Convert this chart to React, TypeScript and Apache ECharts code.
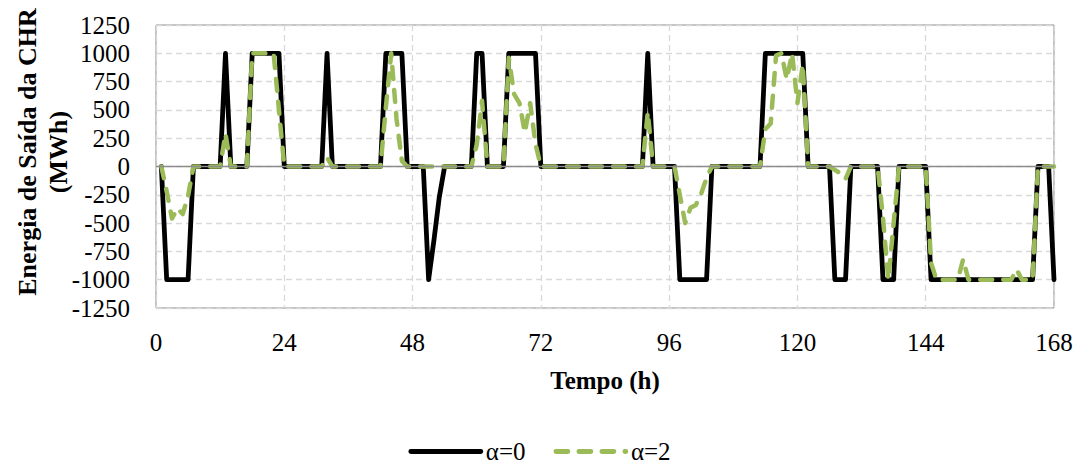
import React, { useEffect, useRef } from "react";
import * as echarts from "echarts";

// Hours 1..168
const hours: number[] = Array.from({ length: 168 }, (_, i) => i + 1);

const xTicks = [0, 24, 48, 72, 96, 120, 144, 168];
const yTicks = [-1250, -1000, -750, -500, -250, 0, 250, 500, 750, 1000, 1250];

const seriesNames = ["α=0", "α=2"];

// α=0 (black, solid)
const alpha0: number[] = [
  0, -1000, -1000, -1000, -1000, -1000, 0, 0, 0, 0, 0, 0,
  1000, 0, 0, 0, 0, 1000, 1000, 1000, 1000, 1000, 1000, 0,
  0, 0, 0, 0, 0, 0, 0, 1000, 0, 0, 0, 0,
  0, 0, 0, 0, 0, 0, 1000, 1000, 1000, 1000, 0, 0,
  0, 0, -1000, -650, -270, 0, 0, 0, 0, 0, 0, 1000,
  1000, 0, 0, 0, 0, 1000, 1000, 1000, 1000, 1000, 1000, 0,
  0, 0, 0, 0, 0, 0, 0, 0, 0, 0, 0, 0,
  0, 0, 0, 0, 0, 0, 0, 1000, 0, 0, 0, 0,
  0, -1000, -1000, -1000, -1000, -1000, -1000, 0, 0, 0, 0, 0,
  0, 0, 0, 0, 0, 1000, 1000, 1000, 1000, 1000, 1000, 1000,
  1000, 0, 0, 0, 0, 0, -1000, -1000, -1000, 0, 0, 0,
  0, 0, 0, -1000, -1000, -1000, 0, 0, 0, 0, 0, 0,
  -1000, -1000, -1000, -1000, -1000, -1000, -1000, -1000, -1000, -1000, -1000, -1000,
  -1000, -1000, -1000, -1000, -1000, -1000, -1000, -1000, 0, 0, 0, -1000,
];

// α=2 (green, dashed)
const alpha2: number[] = [
  0, -220, -460, -370, -420, -260, 0, 0, 0, 0, 0, 0,
  290, 0, 0, 0, 0, 1000, 1000, 1000, 1000, 1000, 500, 0,
  0, 0, 0, 0, 0, 0, 0, 80, 0, 0, 0, 0,
  0, 0, 0, 0, 0, 0, 520, 1000, 420, 50, 0, 0,
  0, 0, 0, 0, 0, 0, 0, 0, 0, 0, 0, 190,
  580, 0, 0, 0, 0, 960, 640, 560, 300, 560, 200, 0,
  0, 0, 0, 0, 0, 0, 0, 0, 0, 0, 0, 0,
  0, 0, 0, 0, 0, 0, 0, 480, 0, 0, 0, 0,
  0, -250, -500, -365, -340, -240, -100, 0, 0, 0, 0, 0,
  0, 0, 0, 0, 0, 330, 380, 980, 1000, 770, 1000, 560,
  900, 0, 0, 0, 0, 0, -30, -60, -110, 0, 0, 0,
  0, 0, 0, -450, -1000, -500, 0, 0, 0, 0, 0, 0,
  -850, -1000, -1000, -1000, -1000, -1000, -820, -1000, -1000, -1000, -1000, -1000,
  -1000, -1000, -1000, -1000, -910, -1000, -1000, -1000, 0, 0, 0, 0,
];

const FONT = "Liberation Serif";

export default function App() {
  const ref = useRef<HTMLDivElement>(null);

  useEffect(() => {
    if (!ref.current) return;
    const chart = echarts.init(ref.current, undefined, { renderer: "svg" });
    const pair = (arr: number[]) => hours.map((h, i) => [h, arr[i]]);
    chart.setOption({
      animation: false,
      backgroundColor: "#ffffff",
      textStyle: { fontFamily: FONT },
      grid: {
        left: 156,
        right: 25,
        top: 25,
        bottom: 157,
        show: true,
        borderColor: "#8c8c8c",
        borderWidth: 1,
        backgroundColor: "transparent",
      },
      legend: {
        data: seriesNames,
        left: "center",
        top: 434,
        itemWidth: 70,
        itemHeight: 14,
        itemGap: 28,
        itemStyle: { opacity: 0 },
        lineStyle: { width: 4.8 },
        textStyle: { fontFamily: FONT, fontSize: 25, color: "#000" },
      },
      xAxis: {
        type: "value",
        min: xTicks[0],
        max: xTicks[xTicks.length - 1],
        interval: 24,
        name: "Tempo (h)",
        nameLocation: "middle",
        nameGap: 60,
        nameTextStyle: { fontFamily: FONT, fontSize: 25, fontWeight: "bold", color: "#000" },
        axisLine: { show: false, onZero: false },
        axisTick: { show: false },
        axisLabel: { fontFamily: FONT, fontSize: 25, color: "#000", margin: 22 },
        splitLine: { show: true, lineStyle: { color: "#d9d9d9", type: [6, 4], width: 1.3 } },
      },
      yAxis: {
        type: "value",
        min: yTicks[0],
        max: yTicks[yTicks.length - 1],
        interval: 250,
        axisLine: { show: false },
        axisTick: { show: false },
        axisLabel: {
          fontFamily: FONT,
          fontSize: 25,
          color: "#000",
          margin: 26,
          formatter: (v: number) => String(v),
        },
        splitLine: { show: true, lineStyle: { color: "#d9d9d9", type: [6, 4], width: 1.3 } },
      },
      graphic: [
        {
          type: "text",
          x: 27,
          y: 152,
          rotation: Math.PI / 2,
          style: {
            text: "Energia de Saída da CHR",
            fontFamily: FONT,
            fontSize: 26,
            fontWeight: "bold",
            fill: "#000",
            textAlign: "center",
            textVerticalAlign: "middle",
          },
        },
        {
          type: "text",
          x: 58,
          y: 152,
          rotation: Math.PI / 2,
          style: {
            text: "(MWh)",
            fontFamily: FONT,
            fontSize: 26,
            fontWeight: "bold",
            fill: "#000",
            textAlign: "center",
            textVerticalAlign: "middle",
          },
        },
      ],
      series: [
        {
          name: seriesNames[0],
          type: "line",
          data: pair(alpha0),
          symbol: "none",
          z: 2,
          lineStyle: { color: "#000000", width: 4.8, cap: "round", join: "round" },
          itemStyle: { color: "#000000" },
          markLine: {
            silent: true,
            symbol: "none",
            label: { show: false },
            lineStyle: { color: "#8c8c8c", type: "solid", width: 1.3 },
            data: [{ yAxis: 0 }],
          },
        },
        {
          name: seriesNames[1],
          type: "line",
          data: pair(alpha2),
          symbol: "none",
          z: 3,
          lineStyle: { color: "#9bbb59", width: 4.5, type: [12, 11], cap: "round", join: "round" },
          itemStyle: { color: "#9bbb59" },
        },
      ],
    });
    return () => chart.dispose();
  }, []);

  return (
    <div
      ref={ref}
      style={{ position: "fixed", left: 0, top: 0, width: 1079, height: 465, background: "#fff" }}
    />
  );
}
